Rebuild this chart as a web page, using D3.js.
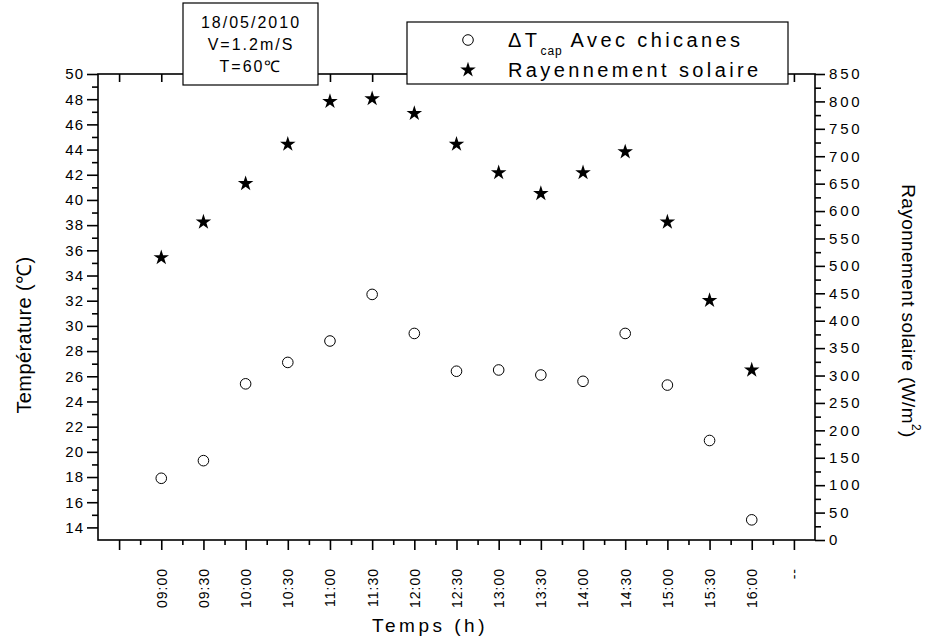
<!DOCTYPE html>
<html>
<head>
<meta charset="utf-8">
<script src="https://cdn.jsdelivr.net/npm/d3@7"></script>
<style>
  html, body { margin: 0; padding: 0; background: #fff; }
  svg { display: block; font-family: "Liberation Sans", Arial, sans-serif; }
</style>
</head>
<body>
<svg id="chart" width="929" height="644"></svg>
<script>
// Category slots along the time axis (first slot blank, last slot "--")
const timeLabels = ["", "09:00", "09:30", "10:00", "10:30", "11:00", "11:30", "12:00",
  "12:30", "13:00", "13:30", "14:00", "14:30", "15:00", "15:30", "16:00", "--"];
// Measurement times
const sampleTimes = ["09:00", "09:30", "10:00", "10:30", "11:00", "11:30", "12:00",
  "12:30", "13:00", "13:30", "14:00", "14:30", "15:00", "15:30", "16:00"];
// ΔT cap with baffles (°C)
const deltaT = [17.9, 19.3, 25.4, 27.1, 28.8, 32.5, 29.4, 26.4, 26.5, 26.1, 25.6, 29.4, 25.3, 20.9, 14.6];
// Solar radiation (W/m²)
const radiation = [515, 580, 650, 722, 800, 805, 778, 722, 670, 632, 670, 708, 580, 437, 310];
// Axis tick values
const tempTicks = [14, 16, 18, 20, 22, 24, 26, 28, 30, 32, 34, 36, 38, 40, 42, 44, 46, 48, 50];
const tempMinor = [15, 17, 19, 21, 23, 25, 27, 29, 31, 33, 35, 37, 39, 41, 43, 45, 47, 49];
const radTicks = [0, 50, 100, 150, 200, 250, 300, 350, 400, 450, 500, 550, 600, 650, 700, 750, 800, 850];
const radMinor = [25, 75, 125, 175, 225, 275, 325, 375, 425, 475, 525, 575, 625, 675, 725, 775, 825];
const infoLines = ["18/05/2010", "V=1.2m/S", "T=60℃"];

const svg = d3.select("#chart");
const plot = { left: 98, right: 815, top: 74, bottom: 540 };

const x = d3.scaleLinear().domain([-0.5, timeLabels.length - 0.5]).range([plot.left, plot.right]);
const yT = d3.scaleLinear().domain([13, 50]).range([plot.bottom, plot.top]);
const yR = d3.scaleLinear().domain([0, 850]).range([plot.bottom, plot.top]);
const xi = t => timeLabels.indexOf(t);

const axisW = 1.6;
const tickFont = 15;

// Bottom axis: major ticks with rotated labels, minor ticks in between
const xMajor = d3.range(timeLabels.length);
const xMinor = d3.range(timeLabels.length - 1).map(i => i + 0.5);
const gx = svg.append("g").attr("transform", `translate(0,${plot.bottom})`);
gx.call(d3.axisBottom(x).tickValues(xMajor).tickSize(10).tickFormat(i => timeLabels[i]).tickSizeOuter(0));
gx.select(".domain").remove();
gx.selectAll(".tick line").attr("stroke", "#000").attr("stroke-width", axisW);
gx.selectAll(".tick text")
  .attr("font-size", tickFont - 1)
  .attr("letter-spacing", "1px")
  .attr("fill", "#000")
  .attr("text-anchor", "end")
  .attr("transform", "translate(0,28) rotate(-90)")
  .attr("x", 0).attr("y", 0).attr("dy", "0.35em");
const gxm = svg.append("g").attr("transform", `translate(0,${plot.bottom})`);
gxm.call(d3.axisBottom(x).tickValues(xMinor).tickSize(5).tickFormat("").tickSizeOuter(0));
gxm.select(".domain").remove();
gxm.selectAll(".tick line").attr("stroke", "#000").attr("stroke-width", axisW);

// Top axis: inward major ticks only
const gt = svg.append("g").attr("transform", `translate(0,${plot.top})`);
gt.call(d3.axisBottom(x).tickValues(xMajor).tickSize(8).tickFormat("").tickSizeOuter(0));
gt.select(".domain").remove();
gt.selectAll(".tick line").attr("stroke", "#000").attr("stroke-width", axisW);

// Left axis (temperature)
const gl = svg.append("g").attr("transform", `translate(${plot.left},0)`);
gl.call(d3.axisLeft(yT).tickValues(tempTicks).tickSize(11).tickPadding(3).tickSizeOuter(0));
gl.select(".domain").remove();
gl.selectAll(".tick line").attr("stroke", "#000").attr("stroke-width", axisW);
gl.selectAll(".tick text").attr("font-size", tickFont).attr("letter-spacing", "1px").attr("fill", "#000");
const glm = svg.append("g").attr("transform", `translate(${plot.left},0)`);
glm.call(d3.axisLeft(yT).tickValues(tempMinor).tickSize(6).tickFormat("").tickSizeOuter(0));
glm.select(".domain").remove();
glm.selectAll(".tick line").attr("stroke", "#000").attr("stroke-width", axisW);

// Right axis (radiation)
const gr = svg.append("g").attr("transform", `translate(${plot.right},0)`);
gr.call(d3.axisRight(yR).tickValues(radTicks).tickSize(10).tickPadding(4).tickSizeOuter(0));
gr.select(".domain").remove();
gr.selectAll(".tick line").attr("stroke", "#000").attr("stroke-width", axisW);
gr.selectAll(".tick text").attr("font-size", tickFont).attr("letter-spacing", "2.8px").attr("fill", "#000");
const grm = svg.append("g").attr("transform", `translate(${plot.right},0)`);
grm.call(d3.axisRight(yR).tickValues(radMinor).tickSize(6).tickFormat("").tickSizeOuter(0));
grm.select(".domain").remove();
grm.selectAll(".tick line").attr("stroke", "#000").attr("stroke-width", axisW);

// Frame
svg.append("rect")
  .attr("x", plot.left).attr("y", plot.top)
  .attr("width", plot.right - plot.left).attr("height", plot.bottom - plot.top)
  .attr("fill", "none").attr("stroke", "#000").attr("stroke-width", axisW);

// ΔT markers: open circles
svg.append("g").selectAll("circle")
  .data(deltaT)
  .join("circle")
  .attr("cx", (d, i) => x(xi(sampleTimes[i])))
  .attr("cy", d => yT(d))
  .attr("r", 5.3)
  .attr("fill", "none")
  .attr("stroke", "#000")
  .attr("stroke-width", 1);

// Radiation markers: filled stars
const star = d3.symbol().type(d3.symbolStar).size(75);
svg.append("g").selectAll("path")
  .data(radiation)
  .join("path")
  .attr("d", star)
  .attr("transform", (d, i) => `translate(${x(xi(sampleTimes[i]))},${yR(d)})`)
  .attr("fill", "#000");

// Axis titles
svg.append("text")
  .attr("transform", "translate(430,632)")
  .attr("text-anchor", "middle")
  .attr("font-size", 19).attr("letter-spacing", "3.5px")
  .text("Temps (h)");

svg.append("text")
  .attr("transform", "translate(31,335) rotate(-90)")
  .attr("text-anchor", "middle")
  .attr("font-size", 20).attr("letter-spacing", "0.4px")
  .text("Température (℃)");

const rt = svg.append("text")
  .attr("transform", "translate(902,311) rotate(90)")
  .attr("text-anchor", "middle")
  .attr("font-size", 19).attr("letter-spacing", "0.4px");
rt.append("tspan").text("Rayonnement solaire (W/m");
rt.append("tspan").attr("font-size", 12).attr("dy", "-0.8em").text("2");
rt.append("tspan").attr("dy", "0.5em").text(")");

// Info box
const info = svg.append("g");
info.append("rect")
  .attr("x", 183).attr("y", 3).attr("width", 135).attr("height", 82)
  .attr("fill", "#fff").attr("stroke", "#000").attr("stroke-width", 1.2);
info.selectAll("text")
  .data(infoLines)
  .join("text")
  .attr("x", 251)
  .attr("y", (d, i) => 28 + i * 22)
  .attr("text-anchor", "middle")
  .attr("font-size", 16).attr("letter-spacing", "2px")
  .text(d => d);

// Legend
const lg = svg.append("g");
lg.append("rect")
  .attr("x", 407).attr("y", 22).attr("width", 381).attr("height", 62)
  .attr("fill", "#fff").attr("stroke", "#000").attr("stroke-width", 1.2);
lg.append("circle").attr("cx", 468).attr("cy", 40).attr("r", 5.3)
  .attr("fill", "none").attr("stroke", "#000").attr("stroke-width", 1);
lg.append("path").attr("d", star).attr("transform", "translate(468,70)").attr("fill", "#000");
const l1 = lg.append("text").attr("x", 508).attr("y", 47).attr("font-size", 20).attr("letter-spacing", "3.4px");
l1.append("tspan").text("ΔT");
l1.append("tspan").attr("font-size", 12).attr("letter-spacing", "1px").attr("dy", 8).text("cap");
l1.append("tspan").attr("dy", -8).text(" Avec chicanes");
lg.append("text").attr("x", 508).attr("y", 77).attr("font-size", 20).attr("letter-spacing", "3.4px")
  .text("Rayennement solaire");
</script>
</body>
</html>
